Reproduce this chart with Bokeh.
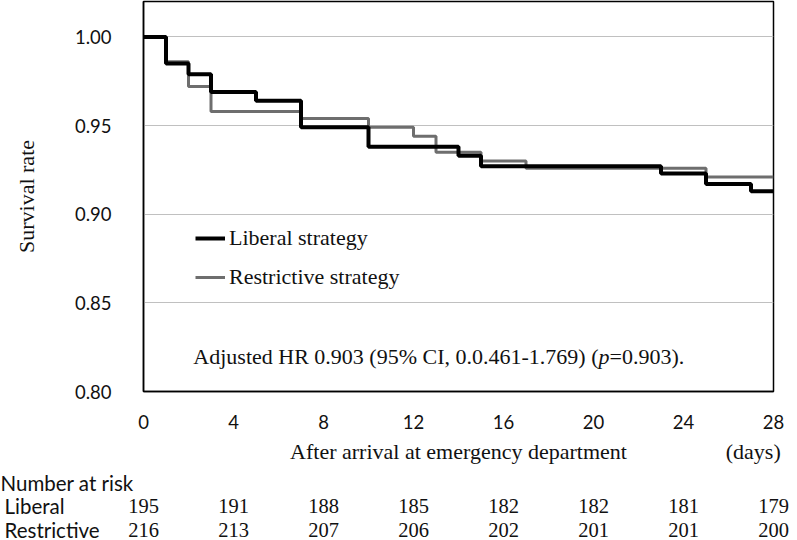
from bokeh.plotting import figure
from bokeh.layouts import column
from bokeh.models import (Label, LabelSet, ColumnDataSource, FixedTicker, Legend,
                          LegendItem, NumeralTickFormatter, LinearAxis, Range1d)
from bokeh.embed import file_html
from bokeh.resources import INLINE

# ---- data ----
liberal_days = [0, 1, 2, 3, 5, 7, 10, 14, 15, 23, 25, 27, 28]
liberal_surv = [1.000, 0.985, 0.979, 0.969, 0.964, 0.949, 0.938, 0.933, 0.927, 0.923, 0.917, 0.913, 0.913]
restrictive_days = [0, 1, 2, 3, 7, 10, 12, 13, 15, 17, 25, 28]
restrictive_surv = [1.000, 0.986, 0.972, 0.958, 0.954, 0.949, 0.944, 0.935, 0.930, 0.926, 0.921, 0.921]
x_ticks = [0, 4, 8, 12, 16, 20, 24, 28]
y_ticks = [0.80, 0.85, 0.90, 0.95, 1.00]
risk_days = [0, 4, 8, 12, 16, 20, 24, 28]
risk_liberal = [195, 191, 188, 185, 182, 182, 181, 179]
risk_restrictive = [216, 213, 207, 206, 202, 201, 201, 200]
x_title = "After arrival at emergency department"
x_unit = "(days)"
y_title = "Survival rate"

SERIF = "Liberation Serif"
SANS = "Lato"
TXT = "#111111"
W = 797
H1, H2 = 466, 74
LEFT, RIGHT, TOP = 143, 24, 1
FRAME_H = 396

# ---------------- main plot ----------------
p = figure(width=W, height=H1, x_range=(0, 28), y_range=(0.80, 1.02),
           output_backend="svg", toolbar_location=None,
           min_border_left=LEFT, min_border_right=RIGHT, min_border_top=TOP,
           min_border_bottom=H1 - TOP - FRAME_H)
p.frame_align = False
p.background_fill_color = "white"
p.border_fill_color = "white"
p.outline_line_color = "black"
p.outline_line_width = 1.5

p.xgrid.visible = False
p.ygrid.ticker = FixedTicker(ticks=y_ticks)
p.ygrid.grid_line_color = "#c0c0c0"
p.ygrid.grid_line_width = 1

for ax in (p.xaxis[0], p.yaxis[0]):
    ax.major_tick_line_color = None
    ax.minor_tick_line_color = None
    ax.axis_line_color = "black"
    ax.axis_line_width = 1.5
    ax.major_label_text_font = SANS
    ax.major_label_text_font_size = "18.5px"
    ax.major_label_text_color = TXT
p.xaxis.ticker = FixedTicker(ticks=x_ticks)
p.yaxis.ticker = FixedTicker(ticks=y_ticks)
p.yaxis.formatter = NumeralTickFormatter(format="0.00")
p.xaxis.major_label_standoff = 17
p.yaxis.major_label_standoff = 26
p.yaxis.axis_label = y_title
p.yaxis.axis_label_text_font = SERIF
p.yaxis.axis_label_text_font_size = "22px"
p.yaxis.axis_label_text_font_style = "normal"
p.yaxis.axis_label_text_color = TXT
p.yaxis.axis_label_standoff = 33

# second bottom axis carrying the x titles
title_pos = [14, 27.1]
title_axis = LinearAxis(ticker=FixedTicker(ticks=title_pos),
                        major_label_overrides={14: x_title, 27.1: x_unit})
title_axis.axis_line_color = None
title_axis.major_tick_line_color = None
title_axis.minor_tick_line_color = None
title_axis.major_label_text_font = SERIF
title_axis.major_label_text_font_size = "22px"
title_axis.major_label_text_color = TXT
title_axis.major_label_standoff = 1
p.add_layout(title_axis, "below")

r_res = p.step(restrictive_days, restrictive_surv, mode="after", line_color="#6e6e6e", line_width=3)
r_lib = p.step(liberal_days, liberal_surv, mode="after", line_color="black", line_width=4)

legend = Legend(items=[LegendItem(label="Liberal strategy", renderers=[r_lib]),
                       LegendItem(label="Restrictive strategy", renderers=[r_res])],
                location=(52, 101), orientation="vertical",
                glyph_width=30, glyph_height=26, label_height=26, label_standoff=4,
                spacing=13, padding=0, margin=0,
                background_fill_alpha=0, border_line_alpha=0,
                label_text_font=SERIF, label_text_font_size="22px", label_text_color=TXT)
p.add_layout(legend)

def lab(fig, x, y, text, font, size, align="left", style="normal"):
    fig.add_layout(Label(x=x, y=y, x_units="screen", y_units="screen", text=text,
                         text_font=font, text_font_size=size, text_align=align,
                         text_baseline="middle", text_color=TXT, text_font_style=style))

# annotation (screen units relative to the frame's bottom-left)
ann_y = 35
lab(p, 455, ann_y, "Adjusted HR 0.903 (95% CI, 0.0.461-1.769) (", SERIF, "22px", align="right")
lab(p, 455, ann_y, "p", SERIF, "22px", style="italic")
lab(p, 466, ann_y, "=0.903).", SERIF, "22px")

# ---------------- number-at-risk table ----------------
px_per_day = (W - LEFT - RIGHT) / 28
t = figure(width=W, height=H2,
           x_range=Range1d(-LEFT / px_per_day, 28 + RIGHT / px_per_day), y_range=(0, H2),
           output_backend="svg", toolbar_location=None, x_axis_type=None, y_axis_type=None,
           min_border_left=0, min_border_right=0, min_border_top=0, min_border_bottom=0)
t.frame_align = False
t.outline_line_color = None
t.background_fill_color = "white"
t.border_fill_color = "white"

row_y = [H2 - 16, H2 - 39, H2 - 63]
lab(t, 0, row_y[0], "Number at risk", SANS, "20.5px")
lab(t, 4, row_y[1], "Liberal", SANS, "20.5px")
lab(t, 4, row_y[2], "Restrictive", SANS, "20.5px")

src_l = ColumnDataSource(dict(day=risk_days, n=[str(v) for v in risk_liberal]))
src_r = ColumnDataSource(dict(day=risk_days, n=[str(v) for v in risk_restrictive]))
for src, yy in ((src_l, row_y[1]), (src_r, row_y[2])):
    t.add_layout(LabelSet(x="day", y=yy, y_units="screen", text="n", source=src,
                          text_font=SANS, text_font_size="20.5px", text_align="center",
                          text_baseline="middle", text_color=TXT))

layout = column(p, t, spacing=0)
open("out.html", "w").write(file_html(layout, INLINE))
